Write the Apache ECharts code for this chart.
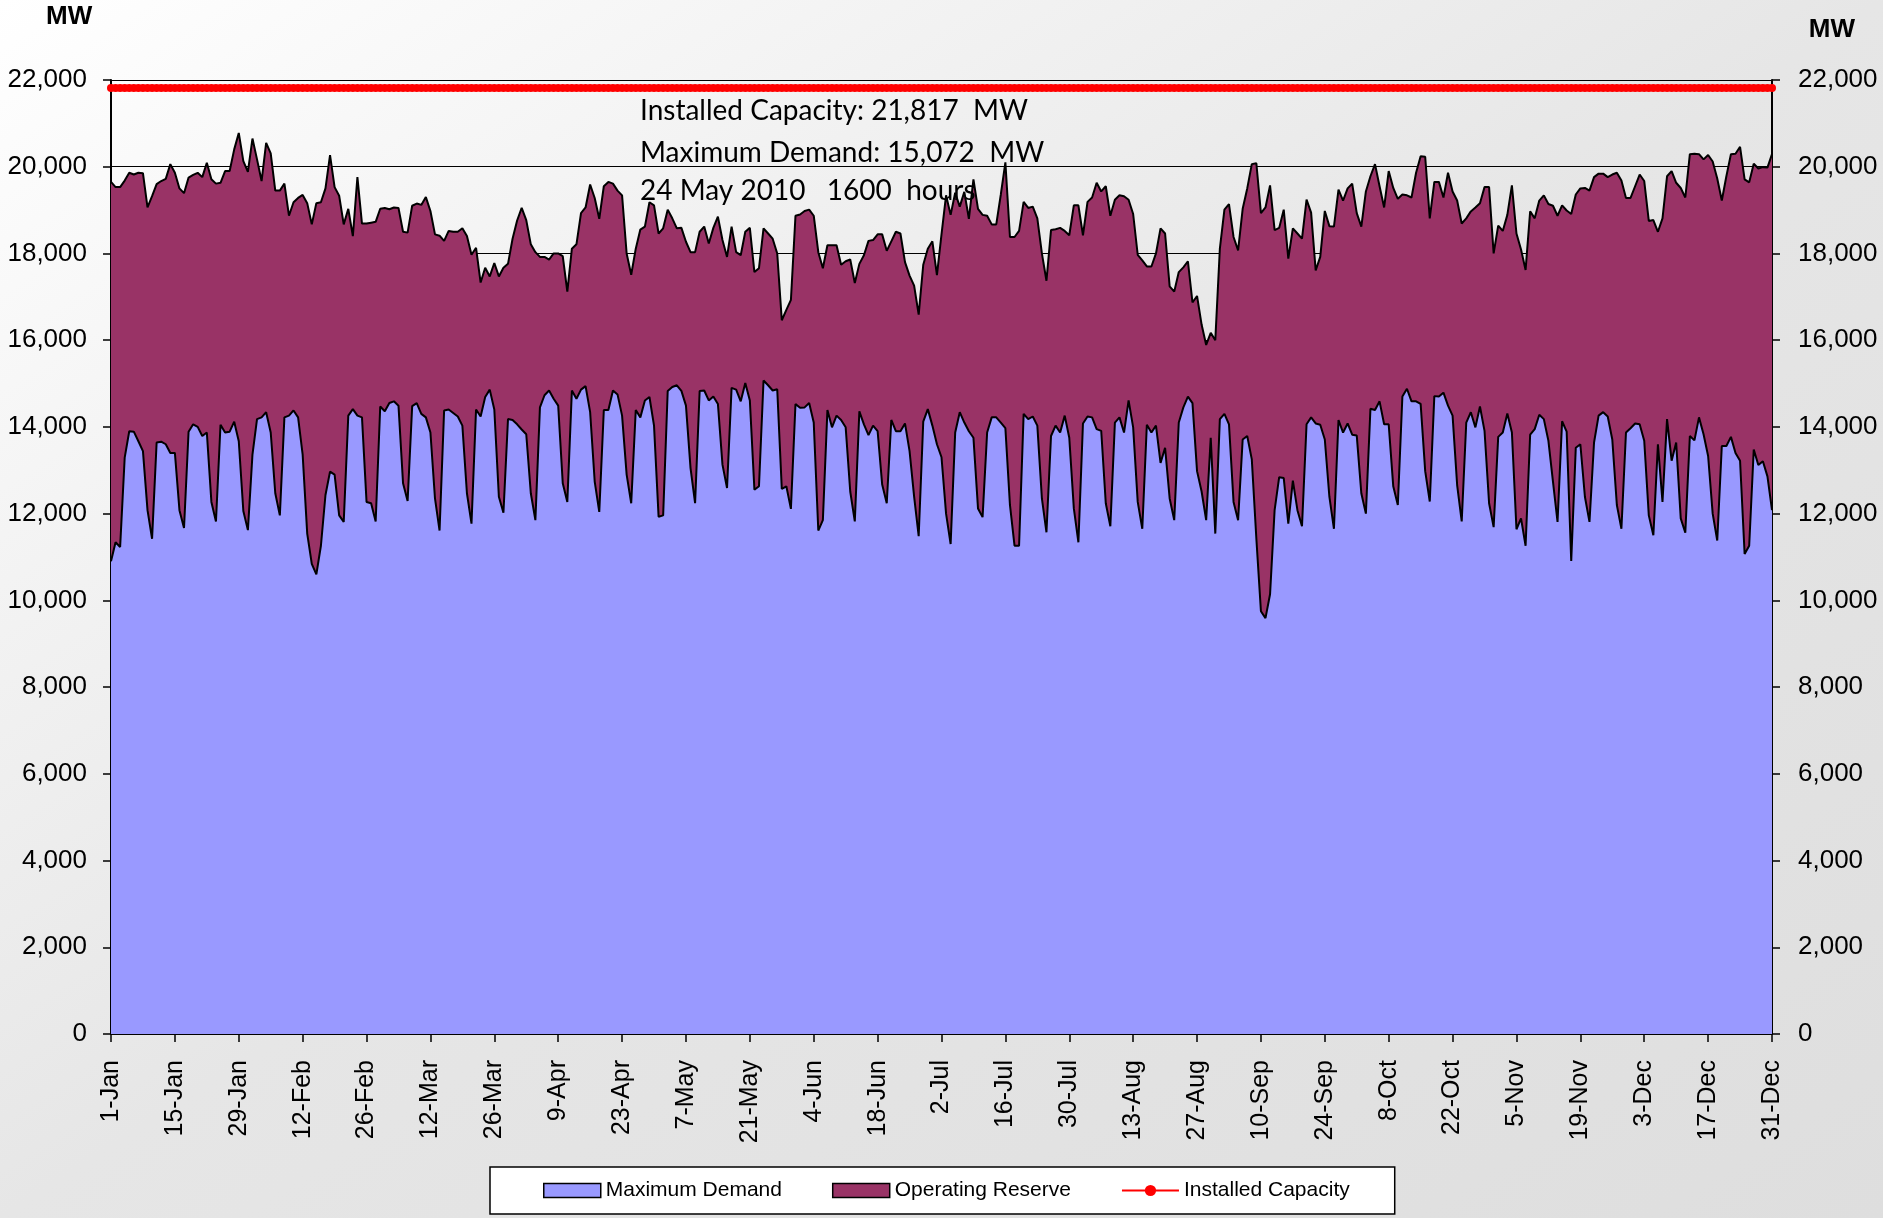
<!DOCTYPE html>
<html>
<head>
<meta charset="utf-8">
<title>Maximum Demand and Operating Reserve 2010</title>
<script src="https://cdn.jsdelivr.net/npm/echarts@6/dist/echarts.min.js"></script>
<style>
  html, body { margin: 0; padding: 0; }
  #chart {
    width: 1883px;
    height: 1218px;
    background: linear-gradient(to bottom right, #ffffff 0%, #e6e6e6 50%, #dedede 100%);
  }
</style>
</head>
<body>
<div id="chart"></div>
<script>
// categories: every day of 2010
const monthNames = ['Jan', 'Feb', 'Mar', 'Apr', 'May', 'Jun', 'Jul', 'Aug', 'Sep', 'Oct', 'Nov', 'Dec'];
const monthLengths = [31, 28, 31, 30, 31, 30, 31, 31, 30, 31, 30, 31];
const dayLabels = [];
monthLengths.forEach((n, m) => {
  for (let d = 1; d <= n; d++) dayLabels.push(d + '-' + monthNames[m]);
});

// daily maximum demand (MW)
const maxDemand = [
  10900, 11340, 11230, 13290, 13900, 13890, 13670, 13440, 12080, 11420,
  13640, 13660, 13600, 13400, 13400, 12080, 11670, 13890, 14060, 14000,
  13790, 13870, 12270, 11820, 14050, 13870, 13890, 14120, 13670, 12060,
  11620, 13360, 14180, 14220, 14340, 13870, 12470, 11960, 14220, 14260,
  14380, 14220, 13360, 11540, 10840, 10600, 11260, 12430, 12970, 12900,
  11960, 11810, 14260, 14410, 14260, 14220, 12270, 12240, 11820, 14470,
  14360, 14550, 14590, 14490, 12700, 12290, 14480, 14550, 14300, 14220,
  13870, 12350, 11610, 14380, 14400, 14320, 14240, 14030, 12470, 11770,
  14400, 14240, 14690, 14860, 14400, 12390, 12020, 14180, 14160, 14060,
  13940, 13830, 12470, 11850, 14450, 14730, 14840, 14650, 14490, 12700,
  12270, 14840, 14650, 14860, 14940, 14340, 12740, 12040, 14390, 14390,
  14840, 14750, 14260, 12900, 12240, 14390, 14220, 14610, 14690, 14030,
  11930, 11960, 14830, 14920, 14960, 14830, 14490, 13050, 12240, 14830,
  14840, 14610, 14700, 14530, 13130, 12590, 14900, 14860, 14590, 15010,
  14610, 12550, 12630, 15070, 14960, 14840, 14870, 12570, 12630, 12110,
  14530, 14440, 14450, 14550, 14100, 11610, 11850, 14390, 13990, 14260,
  14160, 13990, 12510, 11820, 14360, 14060, 13810, 14030, 13900, 12670,
  12240, 14160, 13900, 13900, 14080, 13440, 12390, 11480, 14120, 14410,
  14030, 13600, 13300, 12000, 11300, 13870, 14340, 14100, 13900, 13750,
  12120, 11920, 13870, 14220, 14220, 14100, 13970, 12200, 11260, 11260,
  14300, 14180, 14240, 14030, 12350, 11570, 13790, 14030, 13870, 14260,
  13750, 12120, 11340, 14080, 14240, 14220, 13950, 13910, 12240, 11710,
  14100, 14220, 13870, 14610, 13990, 12270, 11650, 14050, 13870, 14030,
  13170, 13520, 12350, 11850, 14100, 14450, 14700, 14550, 12980, 12510,
  11850, 13750, 11540, 14180, 14300, 14060, 12270, 11850, 13710, 13790,
  13250, 11420, 9750, 9590, 10140, 12080, 12840, 12820, 11770, 12760,
  12080, 11710, 14060, 14220, 14080, 14050, 13710, 12390, 11650, 14160,
  13870, 14080, 13820, 13800, 12470, 12000, 14420, 14390, 14590, 14060,
  14060, 12630, 12200, 14700, 14880, 14590, 14590, 14530, 12980, 12280,
  14710, 14700, 14790, 14490, 14260, 12660, 11820, 14100, 14340, 13990,
  14470, 13910, 12240, 11690, 13770, 13870, 14310, 13870, 11640, 11890,
  11260, 13820, 13950, 14280, 14180, 13680, 12740, 11810, 14130, 13890,
  10910, 13520, 13600, 12390, 11810, 13640, 14260, 14340, 14240, 13710,
  12200, 11650, 13870, 13970, 14080, 14060, 13680, 11960, 11500, 13600,
  12270, 14180, 13220, 13640, 11890, 11560, 13790, 13690, 14220, 13830,
  13330, 12000, 11380, 13560, 13560, 13770, 13400, 13220, 11070, 11260,
  13480, 13120, 13210, 12860, 12080
];

// daily top of the stack = demand + operating reserve (MW)
const availableCapacity = [
  19650, 19530, 19530, 19680, 19860, 19820, 19860, 19850, 19060, 19320,
  19600, 19670, 19720, 20060, 19860, 19500, 19390, 19750, 19810, 19860,
  19760, 20090, 19710, 19610, 19630, 19900, 19900, 20400, 20780, 20130,
  19880, 20650, 20170, 19670, 20550, 20310, 19450, 19450, 19610, 18870,
  19180, 19280, 19350, 19160, 18670, 19160, 19180, 19500, 20270, 19530,
  19330, 18670, 19030, 18400, 19760, 18690, 18690, 18710, 18730, 19030,
  19050, 19020, 19060, 19050, 18500, 18480, 19100, 19150, 19120, 19300,
  18980, 18440, 18410, 18290, 18520, 18500, 18500, 18580, 18400, 17970,
  18130, 17330, 17670, 17470, 17780, 17470, 17670, 17760, 18340, 18760,
  19050, 18770, 18210, 18030, 17920, 17920, 17860, 18000, 18000, 17940,
  17120, 18110, 18210, 18930, 19060, 19590, 19280, 18800, 19550, 19650,
  19610, 19450, 19340, 18000, 17510, 18110, 18550, 18620, 19180, 19110,
  18460, 18580, 19010, 18810, 18580, 18590, 18270, 18030, 18030, 18500,
  18620, 18230, 18590, 18850, 18310, 17920, 18620, 18030, 17960, 18500,
  18590, 17570, 17660, 18580, 18460, 18340, 18000, 16460, 16700, 16930,
  18870, 18900, 18980, 19010, 18870, 18030, 17660, 18190, 18190, 18190,
  17740, 17820, 17860, 17320, 17760, 17960, 18290, 18310, 18440, 18440,
  18060, 18280, 18500, 18460, 17800, 17490, 17260, 16590, 17740, 18110,
  18280, 17500, 18440, 19340, 18890, 19400, 19080, 19420, 18800, 19710,
  19030, 18890, 18870, 18670, 18670, 19360, 20100, 18380, 18380, 18520,
  19190, 19050, 19080, 18810, 18000, 17370, 18540, 18560, 18590, 18520,
  18420, 19110, 19110, 18420, 19190, 19290, 19630, 19430, 19550, 18870,
  19240, 19340, 19320, 19240, 18910, 17970, 17840, 17700, 17700, 18000,
  18580, 18460, 17240, 17120, 17570, 17680, 17820, 16870, 17020, 16360,
  15890, 16170, 16000, 18110, 19010, 19140, 18380, 18070, 19030, 19500,
  20060, 20080, 18930, 19060, 19570, 18540, 18590, 19010, 17880, 18580,
  18460, 18340, 19240, 18940, 17610, 17920, 18980, 18630, 18620, 19470,
  19220, 19500, 19610, 18930, 18620, 19430, 19780, 20060, 19550, 19060,
  19900, 19510, 19260, 19360, 19340, 19290, 19860, 20240, 20230, 18810,
  19650, 19650, 19290, 19860, 19430, 19220, 18690, 18810, 18970, 19060,
  19160, 19530, 19530, 18000, 18640, 18520, 18890, 19570, 18460, 18090,
  17620, 18970, 18810, 19220, 19340, 19140, 19100, 18870, 19110, 18990,
  18910, 19360, 19500, 19510, 19450, 19760, 19840, 19840, 19760, 19820,
  19860, 19680, 19280, 19280, 19550, 19820, 19670, 18750, 18770, 18500,
  18810, 19780, 19900, 19630, 19510, 19290, 20290, 20300, 20290, 20170,
  20270, 20120, 19730, 19220, 19780, 20290, 20300, 20460, 19710, 19640,
  20070, 19960, 19990, 19980, 20290
];

const installedCapacityMW = 21817;

// stacked on top of demand
const operatingReserve = availableCapacity.map((v, i) => v - maxDemand[i]);
const installedCapacity = dayLabels.map(() => installedCapacityMW);

const axisFont = 'Liberation Sans, Arial, sans-serif';
const fmt = v => v.toLocaleString('en-US');

const chart = echarts.init(document.getElementById('chart'));
chart.setOption({
  backgroundColor: 'transparent',
  animation: false,
  grid: { left: 111, right: 111, top: 80, bottom: 184, containLabel: false },
  legend: {
    left: 490,
    top: 1167,
    backgroundColor: '#ffffff',
    borderColor: '#000',
    borderWidth: 1.5,
    padding: [13, 45, 13, 53],
    itemGap: 50,
    itemWidth: 57,
    itemHeight: 14,
    textStyle: { fontFamily: 'Liberation Sans Narrow, Liberation Sans, Arial, sans-serif', fontSize: 21, color: '#000' },
    data: [
      { name: 'Maximum Demand', icon: 'rect', itemStyle: { color: '#9999FF', borderColor: '#000', borderWidth: 1.5 } },
      { name: 'Operating Reserve', icon: 'rect', itemStyle: { color: '#993366', borderColor: '#000', borderWidth: 1.5 } },
      { name: 'Installed Capacity' }
    ]
  },
  xAxis: {
    type: 'category',
    data: dayLabels,
    boundaryGap: false,
    axisLine: { lineStyle: { color: '#000', width: 2 } },
    axisTick: { interval: 13, length: 8, lineStyle: { color: '#000', width: 1.5 } },
    axisLabel: { interval: 13, rotate: 90, margin: 26, color: '#000', fontSize: 25, fontFamily: axisFont }
  },
  yAxis: [
    {
      type: 'value', min: 0, max: 22000, interval: 2000, position: 'left',
      axisLine: { show: true, lineStyle: { color: '#000', width: 2 } },
      axisTick: { show: true, length: 8, lineStyle: { color: '#000', width: 1.5 } },
      axisLabel: { formatter: fmt, margin: 24, color: '#000', fontSize: 26, fontFamily: axisFont },
      splitLine: { show: true, lineStyle: { color: '#000', width: 1.2 } }
    },
    {
      type: 'value', min: 0, max: 22000, interval: 2000, position: 'right',
      axisLine: { show: true, lineStyle: { color: '#000', width: 2 } },
      axisTick: { show: true, length: 8, lineStyle: { color: '#000', width: 1.5 } },
      axisLabel: { formatter: fmt, margin: 26, color: '#000', fontSize: 26, fontFamily: axisFont },
      splitLine: { show: false }
    }
  ],
  series: [
    {
      name: 'Maximum Demand',
      type: 'line',
      stack: 'supply',
      data: maxDemand,
      symbol: 'none',
      z: 3,
      lineStyle: { color: '#000', width: 2 },
      itemStyle: { color: '#9999FF' },
      areaStyle: { color: '#9999FF', opacity: 1 }
    },
    {
      name: 'Operating Reserve',
      type: 'line',
      stack: 'supply',
      data: operatingReserve,
      symbol: 'none',
      z: 2,
      lineStyle: { color: '#000', width: 2 },
      itemStyle: { color: '#993366' },
      areaStyle: { color: '#993366', opacity: 1 }
    },
    {
      name: 'Installed Capacity',
      type: 'line',
      data: installedCapacity,
      symbol: 'circle',
      symbolSize: 8,
      showAllSymbol: true,
      z: 5,
      lineStyle: { color: '#FF0000', width: 4 },
      itemStyle: { color: '#FF0000' }
    }
  ],
  graphic: [
    { type: 'text', left: 46, top: 4, style: { text: 'MW', font: 'bold 26px "Liberation Sans", Arial', fill: '#000' } },
    { type: 'text', right: 28, top: 17, style: { text: 'MW', font: 'bold 26px "Liberation Sans", Arial', fill: '#000' } },
    { type: 'text', left: 640, top: 97, z: 10, style: { text: 'Installed Capacity: 21,817  MW', font: '28px Lato', fill: '#000' } },
    { type: 'text', left: 640, top: 139, z: 10, style: { text: 'Maximum Demand: 15,072  MW', font: '28px Lato', fill: '#000' } },
    { type: 'text', left: 640, top: 177, z: 10, style: { text: '24 May 2010   1600  hours', font: '28px Lato', fill: '#000' } }
  ]
});
</script>
</body>
</html>
